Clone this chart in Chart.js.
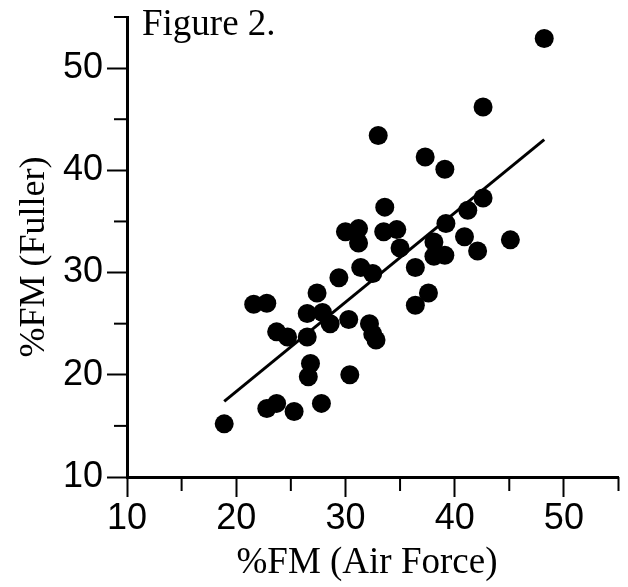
<!DOCTYPE html>
<html>
<head>
<meta charset="utf-8">
<script src="https://cdn.jsdelivr.net/npm/chart.js@4.4.1/dist/chart.umd.min.js"></script>
<style>
  html, body { margin: 0; padding: 0; background: #fff; }
</style>
</head>
<body>
<canvas id="chart" width="628" height="587"></canvas>
<script>
// ── Data ────────────────────────────────────────────────────────────────
const airForce = [48.2, 42.6, 33.0, 37.3, 39.1, 33.6, 42.6, 41.2, 39.2, 30.0,
  31.2, 31.2, 33.5, 34.7, 35.0, 45.1, 38.1, 40.9, 42.1, 38.1,
  39.1, 31.4, 32.5, 29.4, 36.4, 27.4, 37.6, 36.4, 21.6, 22.8,
  26.5, 27.9, 28.6, 30.3, 32.2, 32.5, 32.8, 23.7, 24.7, 26.5,
  26.8, 26.6, 30.4, 22.8, 23.7, 25.3, 27.8, 18.9];
const fuller = [52.9, 46.2, 43.4, 41.3, 40.1, 36.4, 37.3, 36.1, 34.8, 34.0,
  34.3, 32.9, 34.0, 34.2, 32.4, 33.2, 33.0, 33.5, 32.1, 31.6,
  31.7, 30.5, 29.9, 29.5, 30.5, 28.0, 28.0, 26.8, 26.9, 27.0,
  26.0, 26.1, 25.0, 25.4, 25.0, 24.0, 23.4, 24.2, 23.7, 23.7,
  21.1, 19.8, 20.0, 16.7, 17.2, 16.4, 17.2, 15.2];

// regression line end points
const fitX = [18.9, 48.2];
const fitY = [17.4, 43.0];

const majorTicks = [10, 20, 30, 40, 50];
const minorTicks = [15, 25, 35, 45, 55];

const figTitle = 'Figure 2.';
const xTitle = '%FM (Air Force)';
const yTitle = '%FM (Fuller)';

// ── Extra drawing: minor ticks + texts ───────────────────────────────────
const extras = {
  id: 'extras',
  afterDraw(chart) {
    const { ctx, chartArea: a } = chart;
    const { x, y } = chart.scales;
    ctx.save();
    ctx.strokeStyle = '#000';
    ctx.lineWidth = 2;
    minorTicks.forEach(v => {
      const px = x.getPixelForValue(v);
      ctx.beginPath(); ctx.moveTo(px, a.bottom); ctx.lineTo(px, a.bottom + 14); ctx.stroke();
      const py = y.getPixelForValue(v);
      ctx.beginPath(); ctx.moveTo(a.left, py); ctx.lineTo(a.left - 13, py); ctx.stroke();
    });

    ctx.fillStyle = '#000';
    ctx.textBaseline = 'alphabetic';
    ctx.textAlign = 'left';
    ctx.font = '37px "Liberation Serif"';
    ctx.fillText(figTitle, 142, 35);

    ctx.font = '37px "Liberation Serif"';
    ctx.textAlign = 'center';
    ctx.fillText(xTitle, 367, 573);

    ctx.font = '36px "Liberation Serif"';
    ctx.translate(44, 257);
    ctx.rotate(-Math.PI / 2);
    ctx.fillText(yTitle, 0, 0);
    ctx.restore();
  }
};

const tickFont = { family: '"Liberation Sans", Arial, sans-serif', size: 36 };

function axis(pos, fitSize) {
  return {
    type: 'linear',
    position: pos,
    min: 10,
    max: 55,
    border: { display: true, color: '#000', width: 3 },
    grid: {
      drawOnChartArea: false,
      drawTicks: true,
      tickLength: 20,
      tickWidth: 2,
      tickColor: c => (c.tick && majorTicks.includes(c.tick.value)) ? '#000' : 'rgba(0,0,0,0)'
    },
    ticks: {
      stepSize: 5,
      color: '#000',
      font: tickFont,
      padding: pos === 'left' ? 4 : 0,
      maxRotation: 0,
      autoSkip: false,
      callback: v => majorTicks.includes(v) ? String(v) : ''
    },
    afterFit: s => {
      if (pos === 'left') s.width = fitSize; else s.height = fitSize;
      s.paddingTop = 0; s.paddingBottom = 0;
      s.paddingLeft = 0; s.paddingRight = 0;
    }
  };
}

new Chart(document.getElementById('chart'), {
  type: 'scatter',
  data: {
    datasets: [
      {
        type: 'line',
        data: fitX.map((v, i) => ({ x: v, y: fitY[i] })),
        borderColor: '#000',
        borderWidth: 3,
        pointRadius: 0,
        fill: false
      },
      {
        data: airForce.map((v, i) => ({ x: v, y: fuller[i] })),
        backgroundColor: '#000',
        borderColor: '#000',
        borderWidth: 0,
        pointRadius: 9.5
      }
    ]
  },
  options: {
    responsive: false,
    animation: false,
    layout: { padding: { left: 0, right: 3, top: 17, bottom: 0 } },
    plugins: { legend: { display: false }, tooltip: { enabled: false } },
    scales: {
      x: axis('bottom', 110),
      y: axis('left', 127)
    }
  },
  plugins: [extras]
});
</script>
</body>
</html>
